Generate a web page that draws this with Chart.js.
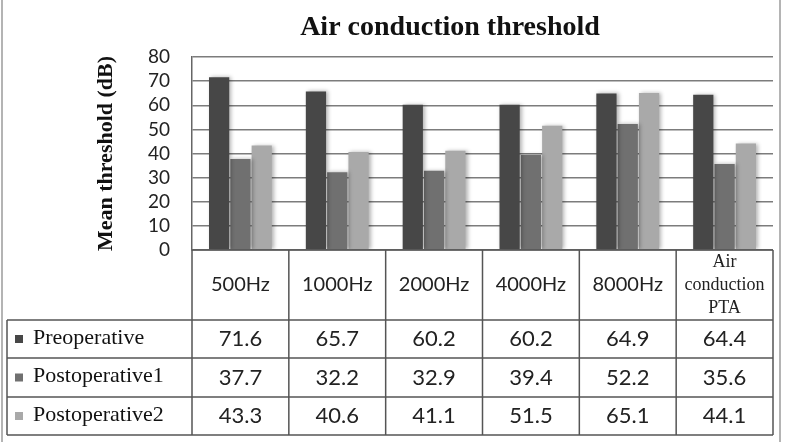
<!DOCTYPE html>
<html>
<head>
<meta charset="utf-8">
<script src="https://cdn.jsdelivr.net/npm/chart.js@4.4.1/dist/chart.umd.min.js"></script>
<style>
    body { margin: 0; background: #fff; }
    #wrap { width: 787px; height: 442px; position: relative; }
</style>
</head>
<body>
<div id="wrap"><canvas id="airChart" width="787" height="442"></canvas></div>
<script>
// values
const categories = ['500Hz', '1000Hz', '2000Hz', '4000Hz', '8000Hz', ['Air', 'conduction', 'PTA']];
const seriesNames = ['Preoperative', 'Postoperative1', 'Postoperative2'];
const preoperative = [71.6, 65.7, 60.2, 60.2, 64.9, 64.4];
const postoperative1 = [37.7, 32.2, 32.9, 39.4, 52.2, 35.6];
const postoperative2 = [43.3, 40.6, 41.1, 51.5, 65.1, 44.1];
const yTicks = [0, 10, 20, 30, 40, 50, 60, 70, 80];

const colors = ['#474747', '#707070', '#a9a9a9'];
const allSeries = [preoperative, postoperative1, postoperative2];

// soft shadow behind the bars
const barShadow = {
    id: 'barShadow',
    beforeDatasetsDraw(chart) {
        const ctx = chart.ctx;
        ctx.save();
        ctx.shadowColor = 'rgba(0,0,0,0.3)';
        ctx.shadowBlur = 4;
        ctx.shadowOffsetX = 2;
        ctx.shadowOffsetY = 0;
    },
    afterDatasetsDraw(chart) {
        chart.ctx.restore();
    }
};

// title, frame and the data table under the plot
const dataTable = {
    id: 'dataTable',
    afterDraw(chart) {
        const ctx = chart.ctx;
        const area = chart.chartArea;
        const x = chart.scales.x;
        const colW = (area.right - area.left) / categories.length;
        const headBottom = 320;
        const rowsY = [320, 358, 397, 435];
        const tableLeft = 7;

        ctx.save();

        // outer frame
        ctx.strokeStyle = '#b4b4b4';
        ctx.lineWidth = 2;
        ctx.beginPath();
        ctx.moveTo(2, 0); ctx.lineTo(2, 442);
        ctx.moveTo(780, 0); ctx.lineTo(780, 442);
        ctx.stroke();

        // title
        ctx.fillStyle = '#111';
        ctx.font = 'bold 28px "Liberation Serif"';
        ctx.textAlign = 'center';
        ctx.textBaseline = 'middle';
        ctx.fillText('Air conduction threshold', 450, 28);

        // grid of the table
        ctx.strokeStyle = '#555';
        ctx.lineWidth = 1.5;
        ctx.beginPath();
        ctx.moveTo(area.left, area.bottom); ctx.lineTo(area.right, area.bottom);
        rowsY.forEach(y => { ctx.moveTo(tableLeft, y); ctx.lineTo(area.right, y); });
        for (let k = 0; k <= categories.length; k++) {
            const ex = area.left + k * colW;
            ctx.moveTo(ex, area.bottom); ctx.lineTo(ex, rowsY[rowsY.length - 1]);
        }
        ctx.moveTo(tableLeft, rowsY[0]); ctx.lineTo(tableLeft, rowsY[rowsY.length - 1]);
        ctx.stroke();

        // header labels
        ctx.fillStyle = '#222';
        categories.forEach((label, i) => {
            const cx = x.getPixelForValue(i);
            const cy = (area.bottom + headBottom) / 2;
            if (Array.isArray(label)) {
                ctx.font = '18px "Liberation Serif"';
                label.forEach((line, j) => ctx.fillText(line, cx, cy + (j - 1) * 23));
            } else {
                ctx.font = '20px Lato';
                ctx.fillText(label, cx, cy);
            }
        });

        // data rows
        seriesNames.forEach((name, r) => {
            const cy = (rowsY[r] + rowsY[r + 1]) / 2;
            ctx.fillStyle = colors[r];
            ctx.fillRect(15, cy - 4, 8, 8);
            ctx.fillStyle = '#111';
            ctx.textAlign = 'left';
            ctx.font = '22px "Liberation Serif"';
            ctx.fillText(name, 33, cy - 1);
            ctx.textAlign = 'center';
            ctx.fillStyle = '#222';
            ctx.font = '22px Lato';
            allSeries[r].forEach((v, i) => {
                ctx.fillText(v.toFixed(1), x.getPixelForValue(i), cy);
            });
        });

        ctx.restore();
    }
};

const ctx = document.getElementById('airChart').getContext('2d');
const chart = new Chart(ctx, {
    type: 'bar',
    data: {
        labels: categories,
        datasets: seriesNames.map((name, i) => ({
            label: name,
            data: allSeries[i],
            backgroundColor: colors[i],
            categoryPercentage: 0.66,
            barPercentage: 0.95
        }))
    },
    options: {
        responsive: false,
        animation: false,
        layout: { padding: { left: 89, right: 14, top: 57, bottom: 192 } },
        plugins: {
            legend: { display: false },
            title: { display: false },
            tooltip: { enabled: false }
        },
        scales: {
            x: { display: false },
            y: {
                min: 0,
                max: 80,
                afterFit(scale) { scale.width = 103; },
                afterBuildTicks(scale) { scale.ticks = yTicks.map(v => ({ value: v })); },
                ticks: {
                    autoSkip: false,
                    padding: 22,
                    color: '#222',
                    font: { family: 'Lato', size: 19 }
                },
                grid: { color: '#7c7c7c', lineWidth: 1.5, drawTicks: false },
                border: { display: true, color: '#666', width: 1.5 },
                title: {
                    display: true,
                    text: 'Mean threshold (dB)',
                    color: '#111',
                    font: { family: 'Liberation Serif', size: 22, weight: 'bold' }
                }
            }
        }
    },
    plugins: [barShadow, dataTable]
});
</script>
</body>
</html>
